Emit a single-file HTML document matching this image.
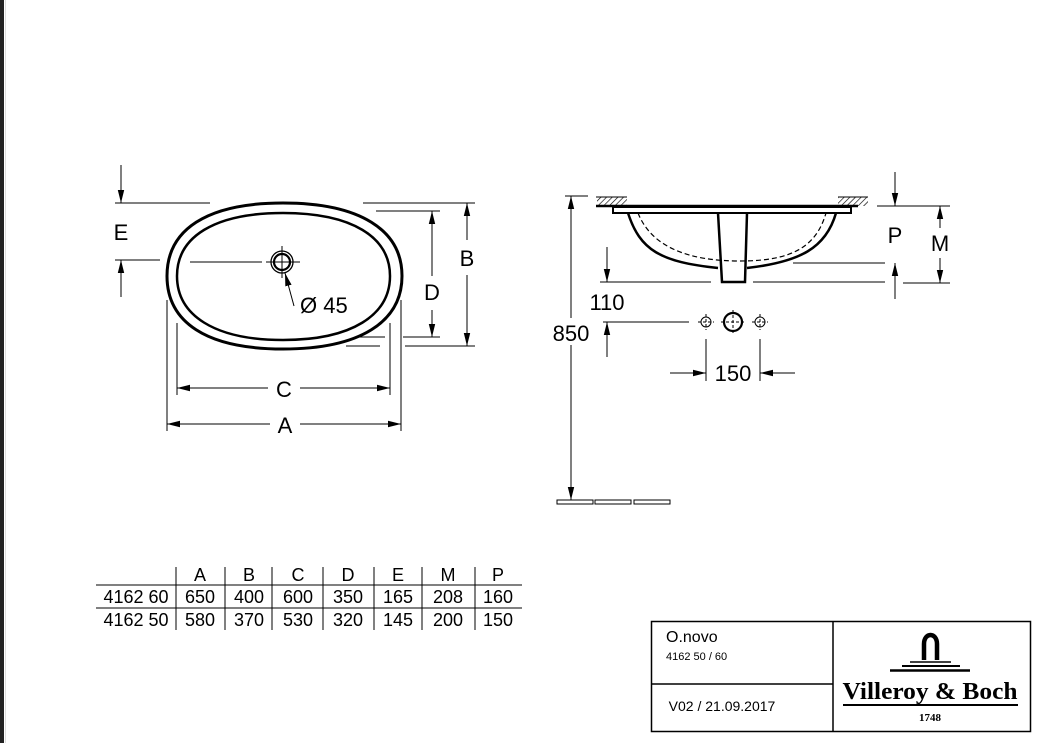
<!DOCTYPE html>
<html><head><meta charset="utf-8"><style>
html,body{margin:0;padding:0;background:#fff}
svg{display:block}
text{font-family:"Liberation Sans",Arial,sans-serif;fill:#000}
</style></head><body>
<svg width="1051" height="743" viewBox="0 0 1051 743" xmlns="http://www.w3.org/2000/svg">
<defs>
<marker id="ar" viewBox="0 0 13 7" refX="13" refY="3.5" markerWidth="13" markerHeight="7" markerUnits="userSpaceOnUse" orient="auto-start-reverse" preserveAspectRatio="none"><path d="M0,0.3 L13,3.5 L0,6.7 Z" fill="#000"/></marker>
<pattern id="hatch" width="4" height="4" patternUnits="userSpaceOnUse" patternTransform="rotate(45)"><line x1="0" y1="0" x2="0" y2="4" stroke="#000" stroke-width="1.3"/></pattern>
</defs>
<rect x="0" y="0" width="4" height="743" fill="#222"/>
<line x1="5.5" y1="0" x2="5.5" y2="743" stroke="#ddd" stroke-width="1"/>

<g stroke="#000" fill="none">
<path d="M283,203 C360,203 402,230 402,276 C402,322 360,349 283,349 C206,349 167,322 167,276 C167,230 206,203 283,203 Z" stroke-width="3"/>
<path d="M283,213 C352,213 390,237 390,276 C390,315 352,340 283,340 C214,340 177,315 177,276 C177,237 214,213 283,213 Z" stroke-width="2.5"/>
<circle cx="282" cy="262" r="11" stroke-width="1.3"/>
<circle cx="282" cy="262" r="8" stroke-width="2.2"/>
<line x1="266" y1="262" x2="300" y2="262" stroke-width="1"/>
<line x1="282" y1="246" x2="282" y2="278" stroke-width="1"/>
<line x1="190" y1="262" x2="262" y2="262" stroke-width="1"/>
<line x1="294" y1="306" x2="285" y2="273" stroke-width="1" marker-end="url(#ar)"/>

<g stroke-width="1">
<line x1="115" y1="203" x2="210" y2="203"/>
<line x1="115" y1="260" x2="160" y2="260"/>
<line x1="121" y1="165" x2="121" y2="203" marker-end="url(#ar)"/>
<line x1="121" y1="297" x2="121" y2="260" marker-end="url(#ar)"/>
<line x1="363" y1="203" x2="475" y2="203"/>
<line x1="405" y1="346" x2="475" y2="346"/>
<line x1="346" y1="346" x2="380" y2="346"/>
<line x1="467" y1="240" x2="467" y2="203" marker-end="url(#ar)"/>
<line x1="467" y1="275" x2="467" y2="346" marker-end="url(#ar)"/>
<line x1="376" y1="211" x2="440" y2="211"/>
<line x1="403" y1="337" x2="440" y2="337"/>
<line x1="357" y1="337" x2="385" y2="337"/>
<line x1="432" y1="276" x2="432" y2="211" marker-end="url(#ar)"/>
<line x1="432" y1="310" x2="432" y2="337" marker-end="url(#ar)"/>
<line x1="177" y1="323" x2="177" y2="395"/>
<line x1="390" y1="323" x2="390" y2="395"/>
<line x1="268" y1="388" x2="177" y2="388" marker-end="url(#ar)"/>
<line x1="300" y1="388" x2="390" y2="388" marker-end="url(#ar)"/>
<line x1="167" y1="300" x2="167" y2="431"/>
<line x1="401" y1="300" x2="401" y2="431"/>
<line x1="270" y1="424" x2="167" y2="424" marker-end="url(#ar)"/>
<line x1="300" y1="424" x2="401" y2="424" marker-end="url(#ar)"/>
</g>

<rect x="597" y="197" width="30" height="9" fill="url(#hatch)" stroke="none"/>
<rect x="838" y="197" width="30" height="9" fill="url(#hatch)" stroke="none"/>
<line x1="596" y1="197" x2="627" y2="197" stroke-width="1"/>
<line x1="838" y1="197" x2="868" y2="197" stroke-width="1"/>
<line x1="596" y1="206" x2="858" y2="206" stroke-width="2.5"/>
<rect x="613" y="207" width="238" height="6" stroke-width="2"/>
<path d="M628,213 C640,250 660,262 718,268" stroke-width="2.5"/>
<path d="M836,213 C826,248 800,262 747,268" stroke-width="2.5"/>
<path d="M638,213 C652,248 690,261 740,261 C790,261 816,248 826,213" stroke-width="1.2" stroke-dasharray="5,3"/>
<path d="M718,213 L722,282 L745,282 L747,213" stroke-width="2.5"/>

<g stroke-width="1">
<line x1="600" y1="282" x2="711" y2="282"/>
<line x1="753" y1="282" x2="885" y2="282"/>
<line x1="793" y1="263" x2="885" y2="263"/>
<line x1="877" y1="206" x2="950" y2="206"/>
<line x1="903" y1="283" x2="950" y2="283"/>
<line x1="895" y1="172" x2="895" y2="206" marker-end="url(#ar)"/>
<line x1="895" y1="299" x2="895" y2="263" marker-end="url(#ar)"/>
<line x1="940" y1="228" x2="940" y2="206" marker-end="url(#ar)"/>
<line x1="940" y1="258" x2="940" y2="283" marker-end="url(#ar)"/>
<line x1="565" y1="196" x2="588" y2="196"/>
<line x1="571" y1="318" x2="571" y2="196" marker-end="url(#ar)"/>
<line x1="571" y1="345" x2="571" y2="500" marker-end="url(#ar)"/>
<rect x="557" y="500" width="36" height="4"/>
<rect x="595" y="500" width="36" height="4"/>
<rect x="634" y="500" width="36" height="4"/>
<line x1="607" y1="247" x2="607" y2="282" marker-end="url(#ar)"/>
<line x1="607" y1="357" x2="607" y2="322" marker-end="url(#ar)"/>
<line x1="603" y1="322" x2="689" y2="322"/>
<circle cx="706" cy="322" r="5"/>
<circle cx="760" cy="322" r="5"/>
<line x1="698" y1="322" x2="714" y2="322" stroke-dasharray="3,2"/>
<line x1="706" y1="314" x2="706" y2="330" stroke-dasharray="3,2"/>
<line x1="752" y1="322" x2="768" y2="322" stroke-dasharray="3,2"/>
<line x1="760" y1="314" x2="760" y2="330" stroke-dasharray="3,2"/>
<line x1="721" y1="322" x2="745" y2="322" stroke-dasharray="3,2"/>
<line x1="733" y1="310" x2="733" y2="334" stroke-dasharray="3,2"/>
<line x1="706" y1="339" x2="706" y2="381"/>
<line x1="760" y1="339" x2="760" y2="381"/>
<line x1="670" y1="373" x2="706" y2="373" marker-end="url(#ar)"/>
<line x1="795" y1="373" x2="760" y2="373" marker-end="url(#ar)"/>
</g>
<circle cx="733" cy="322" r="9" stroke-width="2.2"/>

<g stroke-width="1">
<line x1="96" y1="585" x2="522" y2="585"/>
<line x1="96" y1="608" x2="522" y2="608"/>
<line x1="176" y1="567" x2="176" y2="630"/>
<line x1="225" y1="567" x2="225" y2="630"/>
<line x1="272" y1="567" x2="272" y2="630"/>
<line x1="323" y1="567" x2="323" y2="630"/>
<line x1="374" y1="567" x2="374" y2="630"/>
<line x1="422" y1="567" x2="422" y2="630"/>
<line x1="475" y1="567" x2="475" y2="630"/>
</g>

<rect x="651.5" y="621.5" width="379" height="110" stroke-width="1.5"/>
<line x1="833" y1="621" x2="833" y2="731" stroke-width="1.5"/>
<line x1="651" y1="684" x2="833" y2="684" stroke-width="1.5"/>
<path d="M924,660 L924,644 C924,632 937,632 937,644 L937,660" stroke-width="4.5"/>
<line x1="910" y1="662" x2="951" y2="662" stroke-width="1.5"/>
<line x1="902" y1="666" x2="960" y2="666" stroke-width="2"/>
<line x1="890" y1="670.5" x2="970" y2="670.5" stroke-width="2.5"/>
<line x1="843" y1="705" x2="1018" y2="705" stroke-width="2"/>
</g>

<g font-size="22">
<text x="121" y="240" text-anchor="middle">E</text>
<text x="467" y="266" text-anchor="middle">B</text>
<text x="432" y="300" text-anchor="middle">D</text>
<text x="284" y="397" text-anchor="middle">C</text>
<text x="285" y="433" text-anchor="middle">A</text>
<text x="300" y="313">Ø 45</text>
<text x="895" y="243" text-anchor="middle">P</text>
<text x="940" y="251" text-anchor="middle">M</text>
<text x="607" y="310" text-anchor="middle">110</text>
<text x="571" y="341" text-anchor="middle">850</text>
<text x="733" y="381" text-anchor="middle">150</text>
</g>
<g font-size="18" text-anchor="middle">
<text x="200" y="581">A</text><text x="249" y="581">B</text><text x="298" y="581">C</text><text x="348" y="581">D</text><text x="398" y="581">E</text><text x="448" y="581">M</text><text x="498" y="581">P</text>
<text x="136" y="603">4162 60</text><text x="200" y="603">650</text><text x="249" y="603">400</text><text x="298" y="603">600</text><text x="348" y="603">350</text><text x="398" y="603">165</text><text x="448" y="603">208</text><text x="498" y="603">160</text>
<text x="136" y="626">4162 50</text><text x="200" y="626">580</text><text x="249" y="626">370</text><text x="298" y="626">530</text><text x="348" y="626">320</text><text x="398" y="626">145</text><text x="448" y="626">200</text><text x="498" y="626">150</text>
</g>
<text x="666" y="642" font-size="16">O.novo</text>
<text x="666" y="660" font-size="11">4162 50 / 60</text>
<text x="722" y="711" font-size="14" text-anchor="middle">V02 / 21.09.2017</text>
<text x="930" y="699" font-size="24" font-weight="bold" text-anchor="middle" textLength="175" lengthAdjust="spacingAndGlyphs" style="font-family:'Liberation Serif','DejaVu Serif',serif">Villeroy &amp; Boch</text>
<text x="930" y="721" font-size="11" font-weight="bold" text-anchor="middle" style="font-family:'Liberation Serif',serif">1748</text>
</svg>
</body></html>
